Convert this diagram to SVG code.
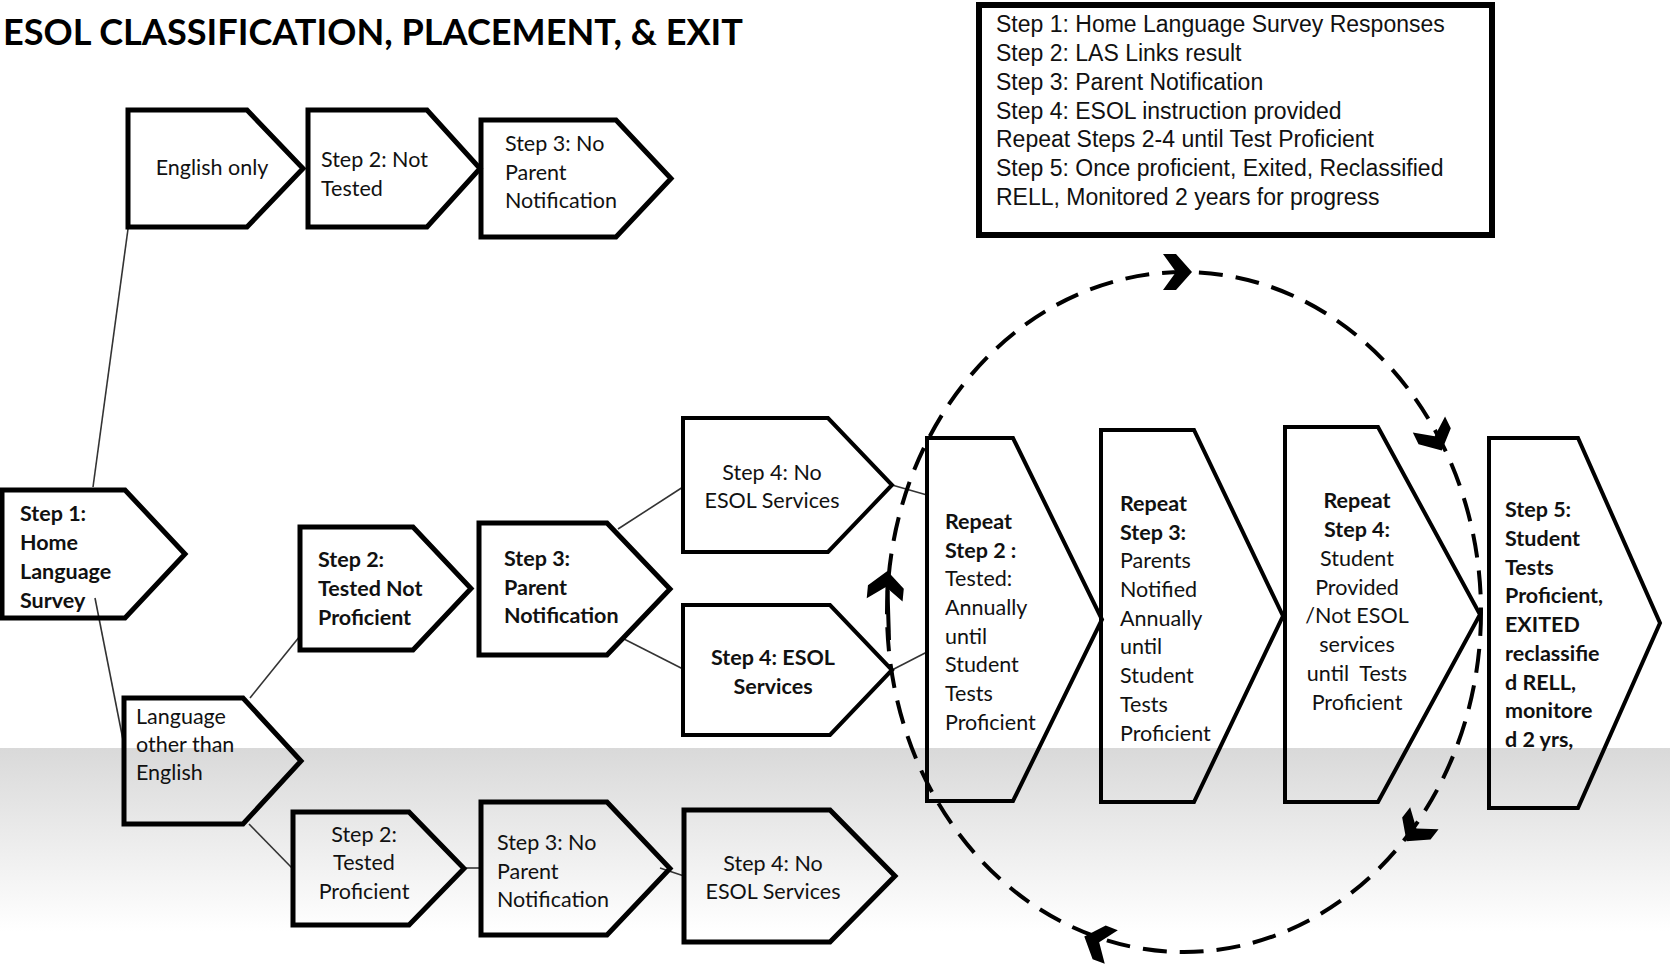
<svg xmlns="http://www.w3.org/2000/svg" xmlns:xlink="http://www.w3.org/1999/xlink" width="1670" height="964" viewBox="0 0 1670 964">
<style>
.box{fill:none;stroke:#000;stroke-width:5;stroke-linejoin:miter}
.thin{stroke-width:4}
.t{font-family:Lato,"Liberation Sans",sans-serif;font-size:21.5px;fill:#111}
.b{font-weight:bold}
.c{text-anchor:middle}
.leg{font-family:"Liberation Sans",Arial,sans-serif;font-size:23px;fill:#111}
.conn line{stroke:#333;stroke-width:1.6}
.loop{fill:none;stroke:#000;stroke-width:4;stroke-dasharray:24 13}
</style>
<defs>
<linearGradient id="band" x1="0" y1="0" x2="0" y2="1">
<stop offset="0" stop-color="#d9d9d9"/>
<stop offset="0.85" stop-color="#ffffff"/>
</linearGradient>
<path id="chev" d="M4,0 L-12,-18 L-25,-18 L-12,0 L-25,18 L-12,18 Z" fill="#000"/>
</defs>
<rect width="1670" height="964" fill="#fff"/>
<rect x="0" y="748" width="1670" height="216" fill="url(#band)"/>

<text x="3" y="45" font-family="Lato,'Liberation Sans',sans-serif" font-weight="bold" font-size="37" textLength="740" lengthAdjust="spacingAndGlyphs" fill="#000">ESOL CLASSIFICATION, PLACEMENT, &amp; EXIT</text>

<g id="legend">
<rect x="981" y="8" width="513" height="230" fill="#555"/>
<rect x="979" y="5" width="513" height="230" fill="#fff" stroke="#000" stroke-width="6"/>
<text class="leg" x="996"><tspan x="996" y="32">Step 1: Home Language Survey Responses</tspan><tspan x="996" y="61">Step 2: LAS Links result</tspan><tspan x="996" y="90">Step 3: Parent Notification</tspan><tspan x="996" y="119">Step 4: ESOL instruction provided</tspan><tspan x="996" y="147">Repeat Steps 2-4 until Test Proficient</tspan><tspan x="996" y="176">Step 5: Once proficient, Exited, Reclassified</tspan><tspan x="996" y="205">RELL, Monitored 2 years for progress</tspan></text>
</g>

<g id="connectors" class="conn">
<line x1="128" y1="229" x2="93" y2="487"/>
<line x1="95" y1="598" x2="124" y2="745"/>
<line x1="250" y1="698" x2="300" y2="636"/>
<line x1="249" y1="824" x2="292" y2="868"/>
<line x1="618" y1="529" x2="683" y2="487"/>
<line x1="624" y1="639" x2="683" y2="669"/>
<line x1="892" y1="485" x2="927" y2="495"/>
<line x1="892" y1="670" x2="927" y2="652"/>
<line x1="464" y1="868" x2="481" y2="868"/>
<line x1="660" y1="868" x2="684" y2="876"/>
</g>

<g id="loop">
<ellipse class="loop" cx="1184" cy="612" rx="297" ry="340"/>
<use xlink:href="#chev" transform="translate(1188,272) rotate(0)"/>
<use xlink:href="#chev" transform="translate(1440,447) rotate(63.7)"/>
<use xlink:href="#chev" transform="translate(1409,838) rotate(127.9)"/>
<use xlink:href="#chev" transform="translate(1088,938) rotate(201.3)"/>
<use xlink:href="#chev" transform="translate(887,575) rotate(-84.6)"/>
<line x1="887" y1="575" x2="889" y2="640" stroke="#000" stroke-width="4"/>
</g>

<g id="n-english">
<path class="box" d="M128,110 H247 L303,168.5 L247,227 H128 Z"/>
<text class="t c" x="212" y="175">English only</text>
</g>
<g id="n-not-tested">
<path class="box" d="M308,110 H427 L480,168.5 L427,227 H308 Z"/>
<text class="t"><tspan x="321" y="167">Step 2: Not</tspan><tspan x="321" y="196">Tested</tspan></text>
</g>
<g id="n-no-parent-top">
<path class="box" d="M481,120 H616 L671,178.5 L616,237 H481 Z"/>
<text class="t"><tspan x="505" y="151">Step 3: No</tspan><tspan x="505" y="180">Parent</tspan><tspan x="505" y="208">Notification</tspan></text>
</g>
<g id="n-step1">
<path class="box" d="M2,490 H125 L185,554 L125,618 H2 Z"/>
<text class="t b"><tspan x="20" y="521">Step 1:</tspan><tspan x="20" y="550">Home</tspan><tspan x="20" y="579">Language</tspan><tspan x="20" y="608">Survey</tspan></text>
</g>
<g id="n-lang-other">
<path class="box" d="M124,698 H243 L301,761 L243,824 H124 Z"/>
<text class="t"><tspan x="136" y="724">Language</tspan><tspan x="136" y="752">other than</tspan><tspan x="136" y="780">English</tspan></text>
</g>
<g id="n-tested-not-prof">
<path class="box" d="M300,527 H413 L471,588.5 L413,650 H300 Z"/>
<text class="t b"><tspan x="318" y="567">Step 2:</tspan><tspan x="318" y="596">Tested Not</tspan><tspan x="318" y="625">Proficient</tspan></text>
</g>
<g id="n-parent-notif">
<path class="box" d="M479,523 H607 L670,589 L607,655 H479 Z"/>
<text class="t b"><tspan x="504" y="566">Step 3:</tspan><tspan x="504" y="595">Parent</tspan><tspan x="504" y="623">Notification</tspan></text>
</g>
<g id="n-no-esol-1">
<path class="box thin" d="M683,418 H828 L892,485 L828,552 H683 Z"/>
<text class="t c"><tspan x="772" y="480">Step 4: No</tspan><tspan x="772" y="508">ESOL Services</tspan></text>
</g>
<g id="n-esol">
<path class="box thin" d="M683,605 H830 L892,670 L830,735 H683 Z"/>
<text class="t b c"><tspan x="773" y="665">Step 4: ESOL</tspan><tspan x="773" y="694">Services</tspan></text>
</g>
<g id="n-repeat2">
<path class="box thin" d="M927,438 H1013 L1102,619.5 L1013,801 H927 Z"/>
<text class="t"><tspan class="b" x="945" y="529">Repeat</tspan><tspan class="b" x="945" y="558">Step 2 :</tspan><tspan x="945" y="586">Tested:</tspan><tspan x="945" y="615">Annually</tspan><tspan x="945" y="644">until</tspan><tspan x="945" y="672">Student</tspan><tspan x="945" y="701">Tests</tspan><tspan x="945" y="730">Proficient</tspan></text>
</g>
<g id="n-repeat3">
<path class="box thin" d="M1101,430 H1194 L1283,616 L1194,802 H1101 Z"/>
<text class="t"><tspan class="b" x="1120" y="511">Repeat</tspan><tspan class="b" x="1120" y="540">Step 3:</tspan><tspan x="1120" y="568">Parents</tspan><tspan x="1120" y="597">Notified</tspan><tspan x="1120" y="626">Annually</tspan><tspan x="1120" y="654">until</tspan><tspan x="1120" y="683">Student</tspan><tspan x="1120" y="712">Tests</tspan><tspan x="1120" y="741">Proficient</tspan></text>
</g>
<g id="n-repeat4">
<path class="box thin" d="M1285,427 H1378 L1480,614.5 L1378,802 H1285 Z"/>
<text class="t c"><tspan class="b" x="1357" y="508">Repeat</tspan><tspan class="b" x="1357" y="537">Step 4:</tspan><tspan x="1357" y="566">Student</tspan><tspan x="1357" y="595">Provided</tspan><tspan x="1357" y="623">/Not ESOL</tspan><tspan x="1357" y="652">services</tspan><tspan x="1357" y="681" xml:space="preserve">until  Tests</tspan><tspan x="1357" y="710">Proficient</tspan></text>
</g>
<g id="n-step5">
<path class="box thin" d="M1489,438 H1578 L1660,623 L1578,808 H1489 Z"/>
<text class="t b"><tspan x="1505" y="517">Step 5:</tspan><tspan x="1505" y="546">Student</tspan><tspan x="1505" y="575">Tests</tspan><tspan x="1505" y="603">Proficient,</tspan><tspan x="1505" y="632">EXITED</tspan><tspan x="1505" y="661">reclassifie</tspan><tspan x="1505" y="690">d RELL,</tspan><tspan x="1505" y="718">monitore</tspan><tspan x="1505" y="747">d 2 yrs,</tspan></text>
</g>
<g id="n-tested-prof">
<path class="box" d="M293,812 H409 L464,868.5 L409,925 H293 Z"/>
<text class="t c"><tspan x="364" y="842">Step 2:</tspan><tspan x="364" y="870">Tested</tspan><tspan x="364" y="899">Proficient</tspan></text>
</g>
<g id="n-no-parent-bot">
<path class="box" d="M481,802 H607 L670,868.5 L607,935 H481 Z"/>
<text class="t"><tspan x="497" y="850">Step 3: No</tspan><tspan x="497" y="879">Parent</tspan><tspan x="497" y="907">Notification</tspan></text>
</g>
<g id="n-no-esol-2">
<path class="box" d="M684,810 H830 L895,876 L830,942 H684 Z"/>
<text class="t c"><tspan x="773" y="871">Step 4: No</tspan><tspan x="773" y="899">ESOL Services</tspan></text>
</g>
</svg>
